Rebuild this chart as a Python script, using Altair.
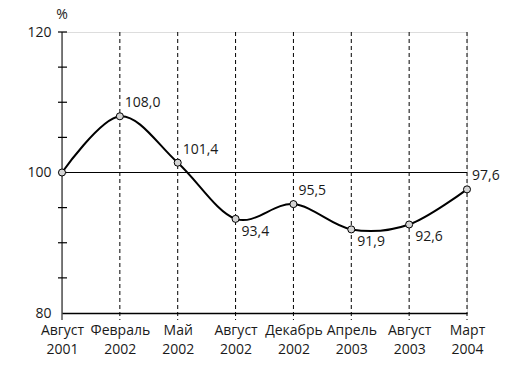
import altair as alt
import pandas as pd

categories = ["Август 2001", "Февраль 2002", "Май 2002", "Август 2002",
              "Декабрь 2002", "Апрель 2003", "Август 2003", "Март 2004"]
values = [100.0, 108.0, 101.4, 93.4, 95.5, 91.9, 92.6, 97.6]
labels = ["", "108,0", "101,4", "93,4", "95,5", "91,9", "92,6", "97,6"]
labels_above = ["Февраль 2002", "Май 2002", "Декабрь 2002", "Март 2004"]
labels_below = ["Август 2002", "Апрель 2003", "Август 2003"]
y_label_values = [80, 100, 120]
y_minor_ticks = [85, 90, 95, 100, 105, 110, 115, 120]
reference_level = 100
unit_label = "%"

FONT = "Open Sans"
W, H = 405, 281

df = pd.DataFrame({"cat": categories, "val": values, "lab": labels})
ticks_df = pd.DataFrame({"t": y_minor_ticks})

xscale = alt.Scale(type="point", domain=categories, padding=0)
yscale = alt.Scale(domain=[80, 120], zero=False, nice=False)

x_enc = alt.X("cat:N", scale=xscale, sort=categories,
              axis=alt.Axis(title=None, domain=True, domainColor="black",
                            domainWidth=1.5, ticks=False, labelAngle=0,
                            labelExpr="split(datum.label, ' ')",
                            labelFont=FONT, labelFontSize=14,
                            labelColor="#1a1a1a", labelPadding=10,
                            labelLineHeight=19, grid=False))
y_enc = alt.Y("val:Q", scale=yscale,
              axis=alt.Axis(title=None,
                            values=y_label_values, domain=False, ticks=False,
                            grid=False, labelFont=FONT, labelFontSize=14,
                            labelColor="#1a1a1a", labelPadding=11))

base = alt.Chart(df)

verticals = base.mark_rule(color="black", strokeWidth=1).encode(
    x=x_enc,
    y=alt.value(0),
    y2=alt.value(H + 7),
    strokeDash=alt.condition(alt.datum.cat == categories[0],
                             alt.value([1, 0]), alt.value([4, 3])),
    strokeWidth=alt.condition(alt.datum.cat == categories[0],
                              alt.value(1.5), alt.value(1)),
)

yticks = alt.Chart(ticks_df).mark_rule(color="black", strokeWidth=1.2).encode(
    y=alt.Y("t:Q", scale=yscale),
    x=alt.value(-4),
    x2=alt.value(5),
)

hline = alt.Chart(pd.DataFrame({"r": [reference_level]})).mark_rule(
    color="black", strokeWidth=1.2).encode(
    y=alt.Y("r:Q", scale=yscale),
    x=alt.value(0),
    x2=alt.value(W),
)

unit = alt.Chart(pd.DataFrame({"u": [unit_label]})).mark_text(
    align="center", baseline="middle", font=FONT, fontSize=14,
    color="#1a1a1a").encode(
    text="u:N", x=alt.value(0), y=alt.value(-17))

line = base.mark_line(color="black", strokeWidth=2, interpolate="cardinal").encode(
    x=x_enc, y=y_enc)

points = base.mark_point(filled=True, fill="#d4d4d4", stroke="black",
                         strokeWidth=1, size=50, opacity=1).encode(
    x=x_enc, y=y_enc)

txt_above = base.transform_filter(
    alt.FieldOneOfPredicate(field="cat", oneOf=labels_above)
).mark_text(align="left", baseline="middle", dx=5, dy=-13,
            font=FONT, fontSize=14, color="#1a1a1a").encode(
    x=x_enc, y=y_enc, text="lab:N")

txt_below = base.transform_filter(
    alt.FieldOneOfPredicate(field="cat", oneOf=labels_below)
).mark_text(align="left", baseline="middle", dx=6, dy=13,
            font=FONT, fontSize=14, color="#1a1a1a").encode(
    x=x_enc, y=y_enc, text="lab:N")

chart = alt.layer(verticals, hline, yticks, line, points, txt_above, txt_below, unit).properties(
    width=W, height=H,
    autosize=alt.AutoSizeParams(type="none"),
    padding={"left": 54, "top": 24, "right": 40, "bottom": 46},
).configure_view(stroke=None).configure(background="white")

chart.save("out.html", embed_options={"renderer": "svg", "actions": False})
